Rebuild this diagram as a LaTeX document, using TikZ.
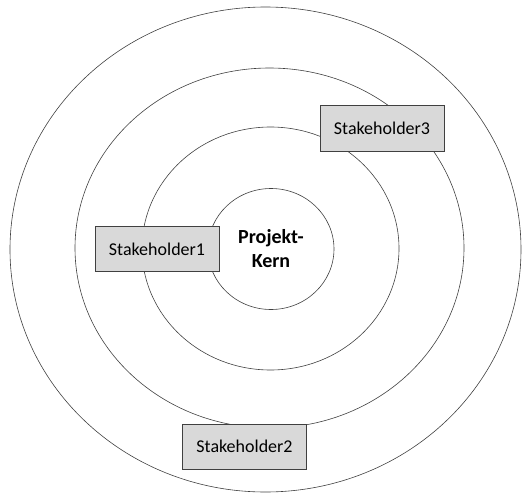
\documentclass[tikz,border=0pt]{standalone}
\usepackage{fontspec}
\setmainfont{Carlito}
\usetikzlibrary{shapes.geometric, positioning}
\usepackage{xcolor}

\definecolor{ringline}{HTML}{404040}
\definecolor{boxfill}{HTML}{D9D9D9}

\begin{document}
\begin{tikzpicture}[
        x=1pt, y=-1pt,
        ring/.style={
            ellipse,
            draw=ringline,
            line width=0.6pt,
            inner sep=0pt
        },
        holder/.style={
            rectangle,
            draw=ringline,
            line width=0.8pt,
            fill=boxfill,
            minimum width=124pt,
            minimum height=45pt,
            font=\fontsize{18}{21}\selectfont
        }
    ]

    \useasboundingbox (0,0) rectangle (523,493);

    % --- RINGS ---
    \node (outer) [ring, minimum width=511pt, minimum height=485pt] at (265.5,249.5) {};
    \node (middle) [ring, minimum width=389pt, minimum height=360pt] at (269.5,248) {};
    \node (inner) [ring, minimum width=257pt, minimum height=243pt] at (270.5,248.5) {};
    \node (kern) [ring, minimum width=126pt, minimum height=121pt, align=center,
        font=\fontsize{20}{24}\selectfont\bfseries] at (271,249) {Projekt-\\Kern};

    % --- STAKEHOLDERS ---
    \node (sh1) [holder] at (157,249) {Stakeholder1};
    \node (sh2) [holder] at (244.5,446.5) {Stakeholder2};
    \node (sh3) [holder, minimum height=46pt] at (382,128) {Stakeholder3};

\end{tikzpicture}
\end{document}
